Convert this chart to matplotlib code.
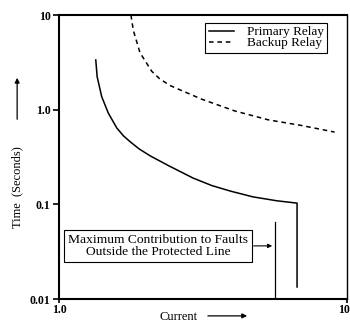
import matplotlib.pyplot as plt

plt.rcParams['font.family'] = ['Liberation Serif', 'DejaVu Serif']

# Primary relay curve (current in multiples, time in seconds)
primary_current = [1.80, 1.84, 1.98, 2.20, 2.52, 2.8, 3.11, 3.6, 4.3, 5.8, 8.5, 11.5, 15.5, 22.2, 32.6, 45.0, 45.0]
primary_time = [3.35, 2.23, 1.37, 0.92, 0.64, 0.53, 0.46, 0.385, 0.325, 0.255, 0.19, 0.158, 0.138, 0.120, 0.109, 0.103, 0.0134]

# Backup relay curve
backup_current = [3.16, 3.28, 3.65, 4.4, 5.0, 5.9, 9.8, 16.6, 28.5, 48.5, 82.0]
backup_time = [10.0, 6.9, 4.0, 2.55, 2.12, 1.8, 1.29, 0.97, 0.78, 0.68, 0.58]

# Maximum fault contribution marker
fault_current = 31.6
fault_time_top = 0.065

y_ticks = [0.01, 0.1, 1.0, 10]
y_tick_labels = ["0.01", "0.1", "1.0", "10"]
x_ticks = [1.0, 100]
x_tick_labels = ["1.0", "100"]

fig = plt.figure(figsize=(3.5, 3.22), dpi=100)
ax = fig.add_axes([0.1686, 0.0714, 0.8228, 0.882])

ax.plot(primary_current, primary_time, color='black', lw=1.1, label='Primary Relay')
ax.plot(backup_current, backup_time, color='black', lw=1.1, dashes=(3, 2.5), label='Backup Relay')
ax.plot([fault_current, fault_current], [0.01, fault_time_top], color='black', lw=0.9)

ax.set_xscale('log')
ax.set_yscale('log')
ax.set_xlim(1, 100)
ax.set_ylim(0.01, 10)
ax.minorticks_off()
ax.set_xticks(x_ticks)
ax.set_xticklabels(x_tick_labels)
ax.set_yticks(y_ticks)
ax.set_yticklabels(y_tick_labels)
ax.tick_params(direction='out', length=4, width=1.2, labelsize=8.5, pad=2)
ax.tick_params(axis='x', length=3, pad=0.5)
for lab in ax.get_xticklabels() + ax.get_yticklabels():
    lab.set_fontweight('bold')

for side in ['left', 'bottom', 'top']:
    ax.spines[side].set_linewidth(1.5)
ax.spines['right'].set_linewidth(1.0)

leg = ax.legend(loc='upper right', bbox_to_anchor=(0.931, 0.972), fontsize=9.5,
                fancybox=False, edgecolor='black', framealpha=1, handlelength=1.9,
                labelspacing=-0.1, borderpad=0.25, handletextpad=1.0, borderaxespad=0)
leg.get_frame().set_linewidth(0.8)

# annotation box with arrow to the fault current line
ax.annotate('', xy=(fault_current, 0.0364), xytext=(21.5, 0.0364),
            arrowprops=dict(arrowstyle='-|>', color='black', lw=0.8, mutation_scale=6))
ax.text(4.87, 0.0364, 'Maximum Contribution to Faults\nOutside the Protected Line',
        ha='center', va='center', fontsize=9.7, linespacing=1.0,
        bbox=dict(boxstyle='square,pad=0.3', facecolor='white', edgecolor='black', lw=0.8))

# axis labels with arrows
fig.text(0.049, 0.42, 'Time  (Seconds)', rotation=90, ha='center', va='center', fontsize=9)
fig.text(0.509, 0.016, 'Current', ha='center', va='center', fontsize=9)
fig.add_artist(plt.Annotation('', xy=(0.049, 0.767), xytext=(0.049, 0.621),
                              xycoords='figure fraction', textcoords='figure fraction',
                              arrowprops=dict(arrowstyle='-|>', color='black', lw=0.9, mutation_scale=7)))
fig.add_artist(plt.Annotation('', xy=(0.714, 0.019), xytext=(0.586, 0.019),
                              xycoords='figure fraction', textcoords='figure fraction',
                              arrowprops=dict(arrowstyle='-|>', color='black', lw=0.9, mutation_scale=7)))

fig.savefig('out.png', dpi=100)
